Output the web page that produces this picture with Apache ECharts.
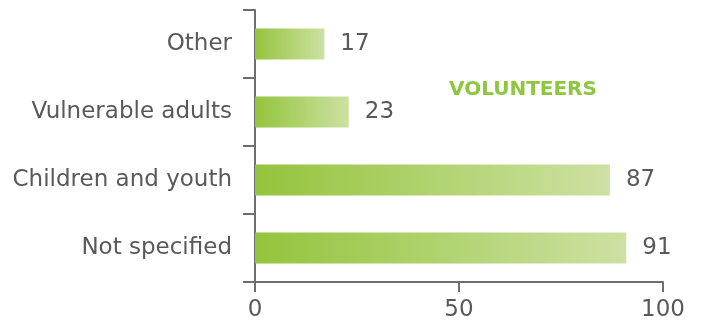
<!DOCTYPE html>
<html>
<head>
<meta charset="utf-8">
<script src="https://cdn.jsdelivr.net/npm/echarts@6/dist/echarts.min.js"></script>
<style>
  html, body { margin: 0; padding: 0; background: #ffffff; }
  #chart { width: 707px; height: 325px; }
</style>
</head>
<body>
<div id="chart"></div>
<script>
// Volunteers by target group
const categories = ['Not specified', 'Children and youth', 'Vulnerable adults', 'Other'];
const volunteers = [91, 87, 23, 17];
const xTicks = [0, 50, 100];

const axisColor = '#6d6e71';
const textColor = '#595959';
const font = 'DejaVu Sans';

const chart = echarts.init(document.getElementById('chart'));
chart.setOption({
  animation: false,
  grid: { left: 255, right: 44, top: 10, bottom: 43, containLabel: false },
  title: {
    text: 'VOLUNTEERS',
    left: 444,
    top: 75,
    textStyle: { color: '#8dc63f', fontSize: 20, fontWeight: 'bold', fontFamily: font }
  },
  xAxis: {
    type: 'value',
    min: xTicks[0],
    max: xTicks[xTicks.length - 1],
    interval: 50,
    splitLine: { show: false },
    axisLine: { show: true, lineStyle: { color: axisColor, width: 2 } },
    axisTick: { show: true, length: 10, lineStyle: { color: axisColor, width: 2 } },
    axisLabel: { color: textColor, fontSize: 23, margin: 17, fontFamily: font }
  },
  yAxis: {
    type: 'category',
    data: categories,
    axisLine: { show: true, lineStyle: { color: axisColor, width: 2 } },
    axisTick: { show: true, length: 12, lineStyle: { color: axisColor, width: 2 } },
    axisLabel: { color: textColor, fontSize: 23, margin: 23, fontFamily: font }
  },
  series: [{
    type: 'bar',
    data: volunteers,
    barWidth: 31,
    itemStyle: {
      color: new echarts.graphic.LinearGradient(0, 0, 1, 0, [
        { offset: 0, color: '#94c43c' },
        { offset: 1, color: '#cde1a3' }
      ])
    },
    label: {
      show: true,
      position: 'right',
      distance: 16,
      color: textColor,
      fontSize: 23,
      fontFamily: font
    }
  }]
});
</script>
</body>
</html>
